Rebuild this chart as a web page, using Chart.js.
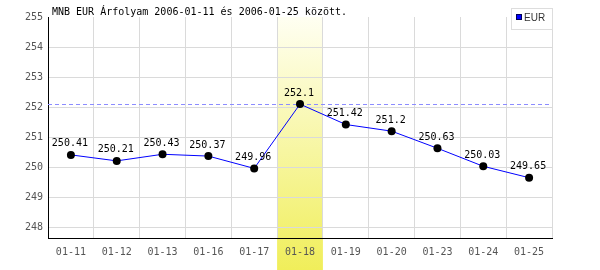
<!DOCTYPE html>
<html>
<head>
<meta charset="utf-8">
<script src="https://cdn.jsdelivr.net/npm/chart.js@4/dist/chart.umd.min.js"></script>
<style>
html,body{margin:0;padding:0;background:#fff;}
canvas{display:block;}
</style>
</head>
<body>
<canvas id="c" width="600" height="270"></canvas>
<script>
const categories = ['01-11','01-12','01-13','01-16','01-17','01-18','01-19','01-20','01-23','01-24','01-25'];
const eurValues = [250.41, 250.21, 250.43, 250.37, 249.96, 252.1, 251.42, 251.2, 250.63, 250.03, 249.65];
const yTickValues = [248, 249, 250, 251, 252, 253, 254, 255];
const titleText = 'MNB EUR Árfolyam 2006-01-11 és 2006-01-25 között.';
const seriesName = 'EUR';
const highlightIndex = 5;

const MONO = '"DejaVu Sans Mono", monospace';

const decorPlugin = {
  id: 'decor',
  beforeDraw(chart) {
    const ctx = chart.ctx;
    const x = chart.scales.x;
    const ca = chart.chartArea;
    const cx = x.getPixelForValue(highlightIndex);
    const half = (x.getPixelForValue(1) - x.getPixelForValue(0)) / 2;
    const g = ctx.createLinearGradient(0, ca.top, 0, chart.height);
    g.addColorStop(0, 'rgb(255,255,242)');
    g.addColorStop(1, 'rgb(240,238,90)');
    ctx.save();
    ctx.fillStyle = g;
    ctx.fillRect(cx - half, ca.top, half * 2, chart.height - ca.top);
    ctx.restore();
  },
  beforeDatasetsDraw(chart) {
    const ctx = chart.ctx;
    const ca = chart.chartArea;
    const y = chart.scales.y;
    const maxV = Math.max(...eurValues);
    const py = Math.round(y.getPixelForValue(maxV)) + 0.5;
    ctx.save();
    ctx.strokeStyle = '#8c8cff';
    ctx.lineWidth = 1;
    ctx.setLineDash([4, 3]);
    ctx.beginPath();
    ctx.moveTo(ca.left, py);
    ctx.lineTo(ca.right, py);
    ctx.stroke();
    ctx.restore();
  },
  afterDatasetsDraw(chart) {
    const ctx = chart.ctx;
    const meta = chart.getDatasetMeta(0);
    ctx.save();
    ctx.font = '10px ' + MONO;
    ctx.fillStyle = '#000';
    ctx.textAlign = 'center';
    ctx.textBaseline = 'bottom';
    meta.data.forEach((pt, i) => {
      ctx.fillText(String(eurValues[i]), pt.x - 1, pt.y - 6);
    });
    ctx.textAlign = 'left';
    ctx.textBaseline = 'middle';
    ctx.fillText(titleText, 52, 12);
    ctx.fillStyle = '#fff';
    ctx.fillRect(511, 8, 41, 21);
    ctx.strokeStyle = '#dddddd';
    ctx.lineWidth = 1;
    ctx.strokeRect(511.5, 8.5, 41, 21);
    ctx.fillStyle = '#0000ff';
    ctx.fillRect(516, 14, 6, 6);
    ctx.strokeStyle = '#000055';
    ctx.strokeRect(516.5, 14.5, 5, 5);
    ctx.fillStyle = '#333';
    ctx.font = '10px "Liberation Sans", Arial, sans-serif';
    ctx.textBaseline = 'middle';
    ctx.fillText(seriesName, 524, 18);
    ctx.restore();
  }
};

new Chart(document.getElementById('c'), {
  type: 'line',
  data: {
    labels: categories,
    datasets: [{
      label: seriesName,
      data: eurValues,
      borderColor: '#0000ff',
      borderWidth: 1,
      tension: 0,
      pointRadius: 4,
      pointBackgroundColor: '#000',
      pointBorderColor: '#000',
      pointBorderWidth: 0,
      fill: false
    }]
  },
  options: {
    responsive: false,
    animation: false,
    devicePixelRatio: 1,
    layout: { padding: { left: 0, right: 48, top: 17, bottom: 0 } },
    plugins: {
      legend: { display: false },
      title: { display: false },
      tooltip: { enabled: false }
    },
    scales: {
      x: {
        type: 'category',
        offset: true,
        grid: { offset: true, color: '#dadada', lineWidth: 1, drawTicks: false },
        border: { color: '#000', width: 1 },
        ticks: { color: '#555', font: { family: MONO, size: 10 }, padding: 8, maxRotation: 0, autoSkip: false },
        afterFit(s) { s.height = 32; }
      },
      y: {
        min: 247.643,
        max: 255,
        grid: {
          color: (c) => (c.tick && c.tick.value === 255 ? 'rgba(0,0,0,0)' : '#dadada'),
          lineWidth: 1,
          drawTicks: false
        },
        border: { color: '#000', width: 1 },
        ticks: { color: '#555', font: { family: MONO, size: 10 }, padding: 5 },
        afterBuildTicks(s) { s.ticks = yTickValues.map(v => ({ value: v })); },
        afterFit(s) { s.width = 48; }
      }
    }
  },
  plugins: [decorPlugin]
});
</script>
</body>
</html>
